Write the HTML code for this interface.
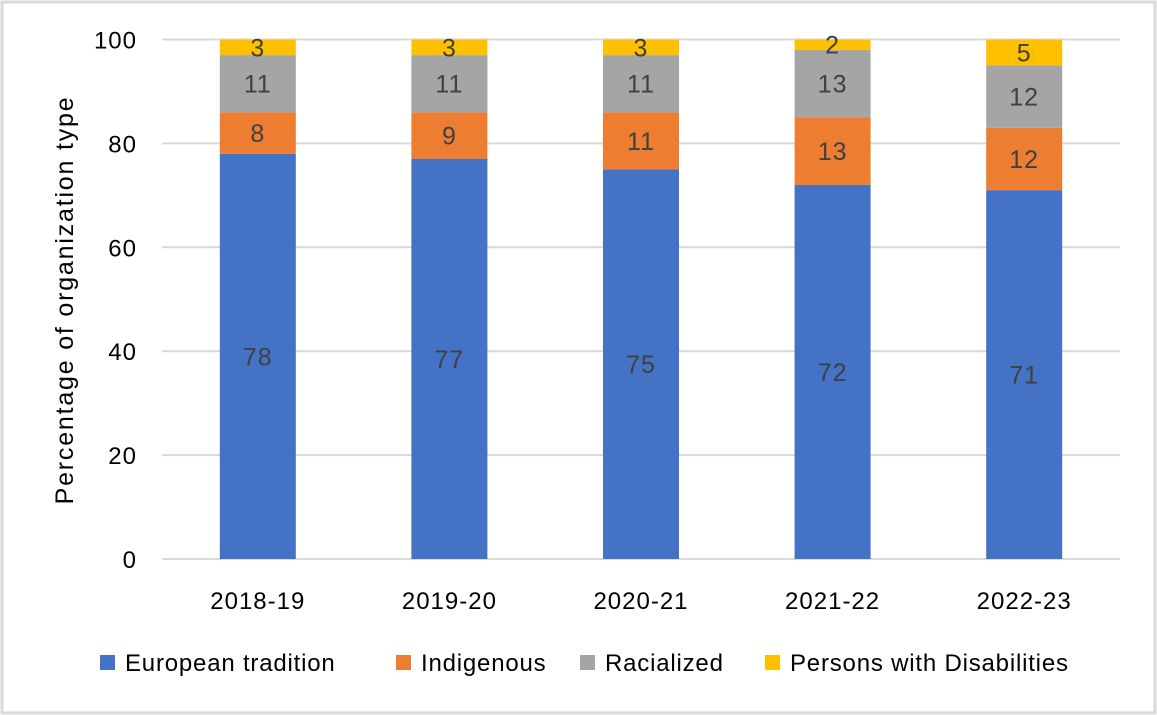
<!DOCTYPE html>
<html><head><meta charset="utf-8"><style>
body{margin:0;background:#fff;}
svg{display:block;font-family:"Liberation Sans",sans-serif;}
</style></head><body>
<svg id="c" width="1157" height="715">
<rect x="2" y="2" width="1153" height="711" fill="#fff" stroke="#d9d9d9" stroke-width="3"/>
<g id="grid"></g><g id="bars"></g><g id="labels"></g>
<text transform="translate(73,300) rotate(-90)" text-anchor="middle" font-size="25" letter-spacing="1.8" fill="#000">Percentage of organization type</text>
<g id="legend"></g>
</svg>
<script>
const categories=["2018-19","2019-20","2020-21","2021-22","2022-23"];
const european=[78,77,75,72,71];
const indigenous=[8,9,11,13,12];
const racialized=[11,11,11,13,12];
const disabilities=[3,3,3,2,5];
const yTicks=[0,20,40,60,80,100];
const seriesNames=["European tradition","Indigenous","Racialized","Persons with Disabilities"];
const colors=["#4472c4","#ed7d31","#a5a5a5","#ffc000"];
const series=[european,indigenous,racialized,disabilities];
const NS="http://www.w3.org/2000/svg";
const x0=162,x1=1120,yTop=39.5,yBot=559;
const y=v=>yBot-(v/100)*(yBot-yTop);
const band=(x1-x0)/categories.length;
const bw=76;
function mk(t,a,p){const e=document.createElementNS(NS,t);for(const k in a)e.setAttribute(k,a[k]);p.appendChild(e);return e;}
const grid=document.getElementById('grid');
yTicks.forEach(t=>{
 const l=mk('line',{x1:x0,x2:x1,y1:y(t),y2:y(t),stroke:'#d9d9d9','stroke-width':2},grid);
 
 
 const tx=mk('text',{x:137,y:y(t)+9,'text-anchor':'end','font-size':24,'letter-spacing':1,fill:'#000'},grid);
 tx.textContent=t;
 
 
});
const bars=document.getElementById('bars'),labels=document.getElementById('labels');
categories.forEach((c,i)=>{
 const cx=x0+band*(i+0.5);
 let acc=0;
 series.forEach((s,j)=>{
  const v=s[i];
  const r=mk('rect',{x:cx-bw/2,y:y(acc+v),width:bw,height:y(acc)-y(acc+v),fill:colors[j]},bars);
  
  
  const t=mk('text',{x:cx,y:(y(acc)+y(acc+v))/2+9,'text-anchor':'middle','font-size':25,'letter-spacing':1,fill:'#404040'},labels);
  t.textContent=v;
  
  
  acc+=v;
 });
 const xl=mk('text',{x:cx,y:609,'text-anchor':'middle','font-size':24,'letter-spacing':1,fill:'#000'},labels);
 xl.textContent=c;
 
 
});
const leg=document.getElementById('legend');
const lx=[100,396,580,765];
seriesNames.forEach((n,j)=>{
 const g=mk('g',{},leg);
 
 
 mk('rect',{x:lx[j],y:655,width:15,height:15,fill:colors[j]},g);
 const t=mk('text',{x:lx[j]+25,y:671,'font-size':24,'letter-spacing':0.8,fill:'#000'},g);
 t.textContent=n;
});
</script>
</body></html>
